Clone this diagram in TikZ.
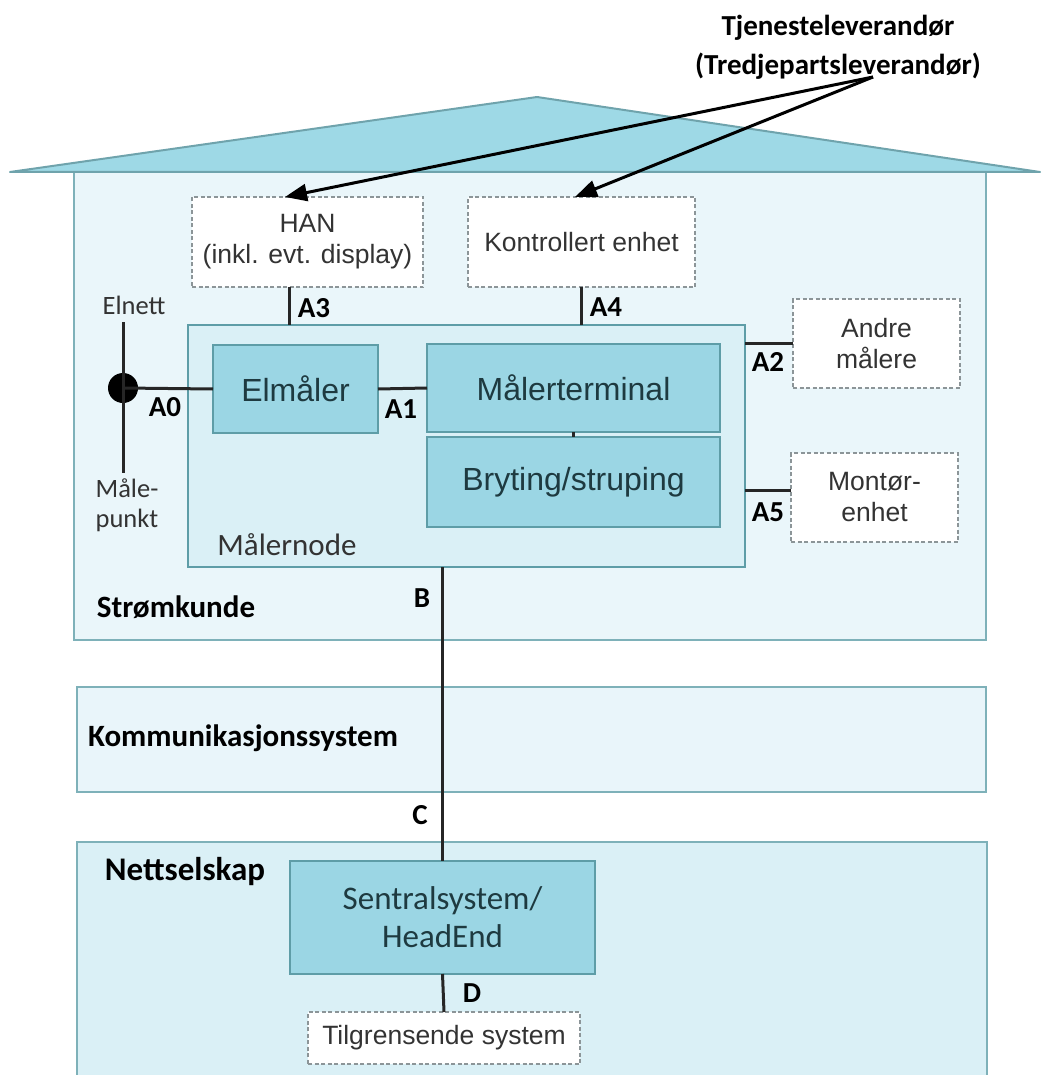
\documentclass[tikz,border=0pt]{standalone}
\usepackage{fontspec}
\setmainfont{Liberation Sans}
\newfontfamily\calfont{Carlito}
\usetikzlibrary{arrows.meta,calc}
\definecolor{rooffill}{HTML}{9ED9E6}
\definecolor{roofdraw}{HTML}{6FA3AC}
\definecolor{housefill}{HTML}{EAF6FA}
\definecolor{nodefill}{HTML}{DAF0F6}
\definecolor{darkfill}{HTML}{9BD6E4}
\definecolor{darkdraw}{HTML}{5E9DA7}
\definecolor{kommfill}{HTML}{E9F5FA}
\definecolor{nettfill}{HTML}{DAF0F6}
\definecolor{dashdraw}{HTML}{8C9598}
\definecolor{boxtext}{HTML}{1E3A40}
\definecolor{softtext}{HTML}{333333}
\tikzset{
  area/.style={draw=darkdraw!80, line width=2pt, inner sep=0pt, outer sep=0pt},
  darkbox/.style={draw=darkdraw, fill=darkfill, line width=2.2pt, inner sep=0pt, outer sep=0pt,
    text=boxtext, font=\fontsize{32}{36}\selectfont, align=center},
  dashbox/.style={draw=dashdraw, fill=white, line width=1.8pt, dash pattern=on 4pt off 2.5pt,
    inner sep=0pt, outer sep=0pt, text=softtext, font=\fontsize{26.5}{31}\selectfont, align=center},
  lbl/.style={font=\calfont\bfseries\fontsize{29}{30}\selectfont, inner sep=0pt},
  area lbl/.style={font=\calfont\bfseries\fontsize{31}{34}\selectfont, inner sep=0pt, text=black},
  plain lbl/.style={font=\calfont\fontsize{26.5}{30}\selectfont, inner sep=0pt, text=softtext, align=left},
  conn/.style={line width=3pt, draw=black!85},
  ptr/.style={line width=3pt, draw=black, -{Triangle[length=22pt,width=17pt]}}
}
\begin{document}
\begin{tikzpicture}[x=1pt,y=-1pt]
\useasboundingbox (0,0) rectangle (1049,1075);
% areas
\node[area, fill=housefill, minimum width=912, minimum height=468] (house) at (530,406) {};
\filldraw[fill=rooffill, draw=roofdraw, line width=2pt, line join=round]
  (10,172) -- (537,97) -- (1040,172) -- cycle;
\node[area, fill=kommfill, minimum width=909, minimum height=105] (komm) at (531.5,739.5) {};
\node[area, fill=nettfill, minimum width=910, minimum height=240] (nett) at (532,962) {};
% Maalernode
\node[area, draw=darkdraw, fill=nodefill, minimum width=557, minimum height=242] (mn) at (466.5,446) {};
\node[darkbox, minimum width=165, minimum height=88] (elm) at (295.5,389) {Elmåler};
\node[darkbox, minimum width=293, minimum height=88] (mt) at (573.5,388) {Målerterminal};
\node[darkbox, minimum width=293, minimum height=90] (bry) at (573.5,482) {Bryting/struping};
\node[plain lbl, font=\calfont\fontsize{31}{34}\selectfont] (mnl) at (287,545) {Målernode};
% dashed boxes
\node[dashbox, minimum width=231, minimum height=90] (han) at (307.5,242) {HAN\\(inkl. evt. display)};
\node[dashbox, minimum width=227, minimum height=90] (kon) at (581.5,242) {Kontrollert enhet};
\node[dashbox, minimum width=167, minimum height=89] (andre) at (876.5,343.5) {Andre\\målere};
\node[dashbox, minimum width=167, minimum height=89] (mont) at (874.5,497.5) {Montør-\\enhet};
% Nettselskap
\node[darkbox, font=\calfont\fontsize{33}{38}\selectfont, minimum width=305, minimum height=113] (sent) at (442.5,917.5) {Sentralsystem/\\HeadEnd};
\node[dashbox, minimum width=272, minimum height=52] (tilg) at (444,1038) {Tilgrensende system};
% metering point
\coordinate (elnettTop) at (123,322);
\coordinate (maalBot) at (123,473);
\node[circle, fill=black, minimum size=30, inner sep=0pt] (dot) at (123,388) {};
\draw[conn] (elnettTop) -- (maalBot);
\node[plain lbl] (elnett) at (134,305) {Elnett};
\node[plain lbl] (maalepunkt) at (127,505) {Måle-\\punkt};
% connectors
\draw[conn] (dot.center) -- (elm.west);
\draw[conn] (elm.east) -- (mt.west);
\draw[conn, line width=2.2pt] (mt.south) -- (bry.north);
\draw[conn] ([xshift=-18.5]han.south) -- ([xshift=-18.5]han.south |- mn.north);
\draw[conn] (kon.south) -- (kon.south |- mn.north);
\draw[conn] (andre.west) -- (andre.west -| mn.east);
\draw[conn] ([yshift=7.5]mont.west) -- ([yshift=7.5]mont.west -| mn.east);
\draw[conn] (sent.north |- mn.south) -- (sent.north);
\draw[conn] (sent.south) -- (tilg.north);
% interface labels
\node[lbl] (a0) at (165,407) {A0};
\node[lbl] (a1) at (401,409) {A1};
\node[lbl] (a3) at (314,308) {A3};
\node[lbl] (a4) at (606,307) {A4};
\node[lbl] (a2) at (768,362) {A2};
\node[lbl] (a5) at (768,512) {A5};
\node[lbl] (b) at (422,598) {B};
\node[lbl] (c) at (420,815) {C};
\node[lbl] (d) at (472,993) {D};
% area labels
\node[area lbl] (strl) at (176,607) {Strømkunde};
\node[area lbl] (komml) at (243,738) {Kommunikasjonssystem};
\node[area lbl, font=\calfont\bfseries\fontsize{33}{36}\selectfont] (nettl) at (185,872) {Nettselskap};
% service provider
\node[font=\calfont\bfseries\fontsize{29}{39}\selectfont, align=center, inner sep=0pt] (tj) at (838,47) {Tjenesteleverandør\\(Tredjepartsleverandør)};
\coordinate (src) at (873,77);
\draw[ptr] (src) -- ([xshift=-22.5]han.north);
\draw[ptr] (src) -- ([xshift=-6.5]kon.north);
\end{tikzpicture}
\end{document}
